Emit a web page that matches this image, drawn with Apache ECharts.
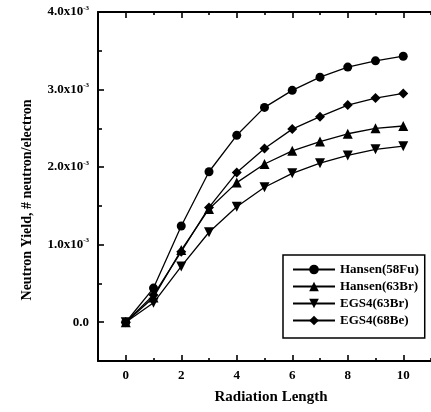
<!DOCTYPE html>
<html>
<head>
<meta charset="utf-8">
<script src="https://cdn.jsdelivr.net/npm/echarts@6/dist/echarts.min.js"></script>
<style>html,body{margin:0;padding:0;background:#fff;}#c{width:431px;height:412px;}</style>
</head>
<body>
<div id="c"></div>
<script>
// Data (yield in units of 1e-3 neutron/electron)
const xValues = [0, 1, 2, 3, 4, 5, 6, 7, 8, 9, 10];
const hansen58Fu = [0, 0.44, 1.24, 1.94, 2.41, 2.77, 2.99, 3.16, 3.29, 3.37, 3.43];
const hansen63Br = [0, 0.32, 0.93, 1.46, 1.80, 2.04, 2.21, 2.33, 2.43, 2.50, 2.53];
const egs63Br    = [0, 0.25, 0.72, 1.16, 1.49, 1.74, 1.92, 2.05, 2.15, 2.23, 2.27];
const egs68Be    = [0, 0.35, 0.91, 1.48, 1.93, 2.24, 2.49, 2.65, 2.80, 2.89, 2.95];
const seriesNames = ['Hansen(58Fu)', 'Hansen(63Br)', 'EGS4(63Br)', 'EGS4(68Be)'];
// Tick positions (axis extents)
const xTickCats = ['-1','0','1','2','3','4','5','6','7','8','9','10','11'];
const yTickCats = ['-0.5','0.0','0.5','1.0','1.5','2.0','2.5','3.0','3.5','4.0'];

const FONT = 'Liberation Serif';
const chart = echarts.init(document.getElementById('c'));

function pts(arr) { return xValues.map((x, i) => [x, arr[i]]); }
const isEvenX = (i, v) => Number(v) % 2 === 0;
const isOddX = (i, v) => Math.abs(Number(v) % 2) === 1;
const isIntY = (i, v) => Number(v) % 1 === 0;
const isHalfY = (i, v) => Number(v) % 1 !== 0 && Number(v) > 0;

const lineStyle = { color: '#000', width: 1.3 };
function mk(name, data, symbol, size) {
  return {
    name, type: 'line', data: pts(data), symbol, symbolSize: size,
    xAxisIndex: 0, yAxisIndex: 0,
    lineStyle, itemStyle: { color: '#000', borderWidth: 0 },
    emphasis: { disabled: true }, animation: false
  };
}

const catX = (pos, ticks, len, showLine, showLabel) => ({
  type: 'category', data: xTickCats, boundaryGap: false, position: pos,
  axisLine: { show: showLine, lineStyle: { color: '#000', width: 2 } },
  axisTick: { show: true, inside: true, length: len, interval: ticks, lineStyle: { color: '#000', width: 1.6 } },
  axisLabel: showLabel ? { show: true, interval: isEvenX, margin: 8, color: '#000', fontFamily: FONT, fontWeight: 'bold', fontSize: 13 } : { show: false },
  splitLine: { show: false }
});
const catY = (ticks, len, showLine, showLabel) => ({
  type: 'category', data: yTickCats, boundaryGap: false, position: 'left',
  axisLine: { show: showLine, lineStyle: { color: '#000', width: 2 } },
  axisTick: { show: true, inside: true, length: len, interval: ticks, lineStyle: { color: '#000', width: 1.6 } },
  axisLabel: showLabel ? {
    show: true, interval: isIntY, margin: 9, color: '#000',
    formatter: v => v === '0.0' ? '{a|0.0}' : '{a|' + v + 'x10}{s|-3}',
    rich: {
      a: { fontFamily: FONT, fontWeight: 'bold', fontSize: 13, color: '#000' },
      s: { fontFamily: FONT, fontWeight: 'bold', fontSize: 7, color: '#000', padding: [0, 0, 8, 0] }
    }
  } : { show: false },
  splitLine: { show: false }
});

chart.setOption({
  animation: false,
  backgroundColor: '#fff',
  grid: { left: 98, top: 12, right: -10, bottom: 51 },
  xAxis: [
    { type: 'value', min: -1, max: 11, show: false },
    catX('bottom', isEvenX, 6, true, true),
    catX('bottom', isOddX, 3, false, false),
    catX('top', isEvenX, 6, true, false),
    catX('top', isOddX, 3, false, false)
  ],
  yAxis: [
    { type: 'value', min: -0.5, max: 4, show: false },
    catY(isIntY, 6, true, true),
    catY(isHalfY, 4, false, false)
  ],
  legend: {
    orient: 'vertical', left: 283, top: 255,
    data: seriesNames,
    padding: [8, 6, 11, 9], itemGap: 4, itemWidth: 42, itemHeight: 12,
    borderColor: '#000', borderWidth: 1.5, backgroundColor: '#fff',
    textStyle: { fontFamily: FONT, fontWeight: 'bold', fontSize: 13, color: '#000' },
    selectedMode: false
  },
  graphic: [
    { type: 'text', x: 27, y: 200, rotation: Math.PI / 2,
      style: { text: 'Neutron Yield, # neutron/electron', fontFamily: FONT, fontWeight: 'bold', fontSize: 14, fill: '#000', align: 'center', verticalAlign: 'middle' } },
    { type: 'text', x: 271, y: 397,
      style: { text: 'Radiation Length', fontFamily: FONT, fontWeight: 'bold', fontSize: 15, fill: '#000', align: 'center', verticalAlign: 'middle' } }
  ],
  series: [
    mk(seriesNames[0], hansen58Fu, 'circle', 9),
    mk(seriesNames[1], hansen63Br, 'triangle', 10),
    mk(seriesNames[2], egs63Br, 'path://M0,0 L10,0 L5,9 Z', 10),
    mk(seriesNames[3], egs68Be, 'diamond', 10)
  ]
});
</script>
</body>
</html>
